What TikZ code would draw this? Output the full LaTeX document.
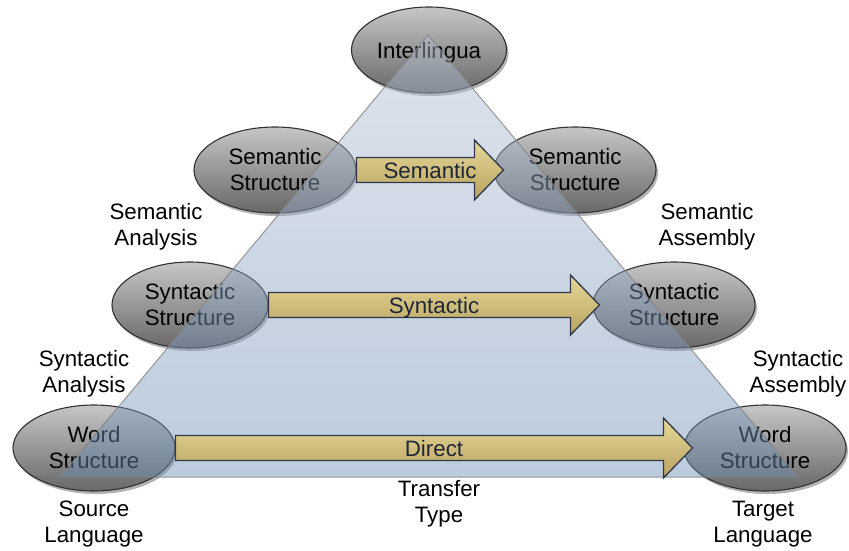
\documentclass[tikz,border=0pt]{standalone}
\usepackage{fontspec}
\setmainfont{Liberation Sans}
\usetikzlibrary{shapes.geometric,shadows,calc}

\definecolor{ellTop}{RGB}{198,198,198}
\definecolor{ellBot}{RGB}{104,104,104}
\definecolor{ellEdge}{RGB}{50,50,50}
\definecolor{triTop}{RGB}{182,193,211}
\definecolor{triBot}{RGB}{107,141,180}
\definecolor{triEdge}{RGB}{130,130,130}
\definecolor{arrTop}{RGB}{230,216,152}
\definecolor{arrBot}{RGB}{184,162,95}
\definecolor{arrEdge}{RGB}{46,56,72}
\definecolor{arrText}{RGB}{30,38,55}

\tikzset{
  level/.style={ellipse, draw=ellEdge, line width=1.1pt,
    minimum width=162pt, minimum height=86pt, inner sep=0pt,
    shading=axis, top color=ellTop, bottom color=ellBot,
    drop shadow={shadow xshift=2pt, shadow yshift=-3pt, opacity=.3, fill=black},
    align=center, font=\fontsize{22.3}{26}\selectfont, text=black},
  caption/.style={align=center, font=\fontsize{22.3}{26}\selectfont, text=black},
  blockarrow/.style={draw=arrEdge, line width=1.3pt, line join=miter,
    shading=axis, top color=arrTop, bottom color=arrBot},
  arrlabel/.style={anchor=base, font=\fontsize{22.3}{26}\selectfont, text=arrText},
  pyramid/.style={draw=triEdge, line width=1pt, fill opacity=.45, draw opacity=.8,
    shading=axis, top color=triTop, bottom color=triBot}
}

% block arrow from #1 (shaft start) to #2 (tip), with label #3
\newcommand{\blockarrow}[3]{%
  \draw[blockarrow] let \p1=(#1), \p2=(#2) in
    (\x1,\y1+12.5pt) -- (\x2-29pt,\y1+12.5pt) -- (\x2-29pt,\y1+30pt) --
    (\x2,\y1) -- (\x2-29pt,\y1-30pt) -- (\x2-29pt,\y1-12.5pt) --
    (\x1,\y1-12.5pt) -- cycle;
  \path let \p1=(#1), \p2=(#2) in
    node[arrlabel] at ({(\x1+\x2)/2},\y1-8pt) {#3};%
}

\begin{document}
\begin{tikzpicture}[x=1pt,y=-1pt]
\useasboundingbox (0,0) rectangle (849,550);

% levels of representation
\node[level, minimum width=155pt, text depth=0pt] (inter) at (429,50) {Interlingua};
\node[level] (semL) at (275,170) {Semantic\\Structure};
\node[level] (semR) at (575,170) {Semantic\\Structure};
\node[level, minimum width=156pt] (synL) at (190,305) {Syntactic\\Structure};
\node[level] (synR) at (674,305) {Syntactic\\Structure};
\node[level] (wordL) at (94,448) {Word\\Structure};
\node[level] (wordR) at (765,448) {Word\\Structure};

% translation pyramid
\coordinate (apex) at (428,35);
\coordinate (baseL) at (60,477);
\coordinate (baseR) at (798,477);
\draw[pyramid] (apex) -- (baseL) -- (baseR) -- cycle;

% transfer arrows
\coordinate (semTip) at ($(semR.west)+(10,0)$);
\coordinate (synTip) at ($(synR.west)+(7,0)$);
\coordinate (wordTip) at ($(wordR.west)+(9,0)$);
\blockarrow{semL.east}{semTip}{Semantic}
\blockarrow{synL.east}{synTip}{Syntactic}
\blockarrow{wordL.east}{wordTip}{Direct}

% captions
\node[caption] (semAn) at (156,227) {Semantic\\Analysis};
\node[caption] (semAs) at (707,227) {Semantic\\Assembly};
\node[caption] (synAn) at (84,374) {Syntactic\\Analysis};
\node[caption] (synAs) at (798,374) {Syntactic\\Assembly};
\node[caption] (src) at (94,524) {Source\\Language};
\node[caption] (tgt) at (763,524) {Target\\Language};
\node[caption] (xfer) at (439,504) {Transfer\\Type};
\end{tikzpicture}
\end{document}
